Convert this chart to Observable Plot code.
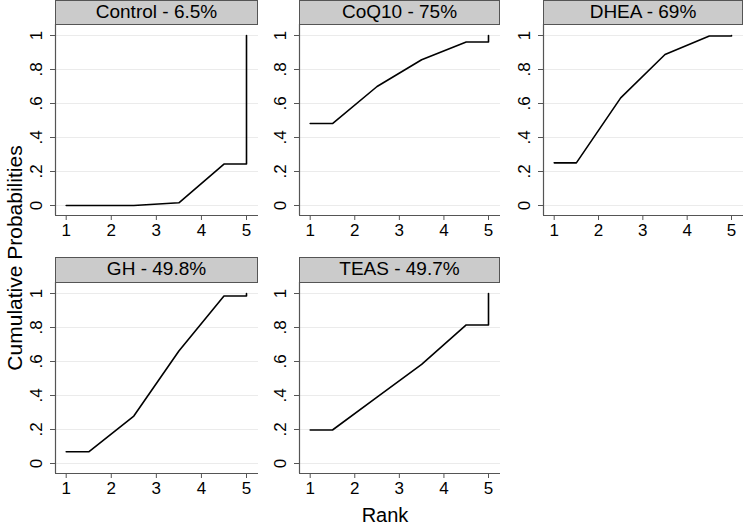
<!DOCTYPE html>
<html>
<head>
<meta charset="utf-8">
<script src="https://cdn.jsdelivr.net/npm/d3@7"></script>
<script src="https://cdn.jsdelivr.net/npm/@observablehq/plot@0.6"></script>
<style>
  html, body { margin: 0; padding: 0; background: white; }
  #chart { position: relative; width: 744px; height: 524px; font-family: "Liberation Sans", Arial, Helvetica, sans-serif; overflow: hidden; }
  .strip { position: absolute; box-sizing: border-box; border: 1px solid #555; background: #cbcbcb; color: #000;
           font-size: 19px; text-align: center; line-height: 22px; }
  .panel { position: absolute; }
  .ytitle { position: absolute; font-size: 21px; white-space: nowrap; transform: translate(-50%, -50%) rotate(-90deg); }
  .xtitle { position: absolute; font-size: 20px; white-space: nowrap; transform: translate(-50%, -50%); }
</style>
</head>
<body>
<div id="chart"></div>
<script>
// ---- data ----
const treatments = ["Control", "CoQ10", "DHEA", "GH", "TEAS"];
const sucraPct = ["6.5%", "75%", "69%", "49.8%", "49.7%"];
const ranks = [1, 2, 3, 4, 5];
// cumulative probability of being within the best k ranks (k = 1..5)
const cumControl = [0.000, 0.000, 0.016, 0.244, 1];
const cumCoQ10   = [0.482, 0.700, 0.857, 0.962, 1];
const cumDHEA    = [0.251, 0.633, 0.888, 0.997, 1];
const cumGH      = [0.069, 0.279, 0.662, 0.985, 1];
const cumTEAS    = [0.197, 0.390, 0.583, 0.815, 1];
const cumList = [cumControl, cumCoQ10, cumDHEA, cumGH, cumTEAS];
const yTicks = [0, 0.2, 0.4, 0.6, 0.8, 1];

// Stata sucra-style path: flat to 1.5, midpoints, flat to 5, jump to 1
function sucraPath(c) {
  return [
    {x: ranks[0], y: c[0]},
    {x: (ranks[0] + ranks[1]) / 2, y: c[0]},
    {x: (ranks[1] + ranks[2]) / 2, y: c[1]},
    {x: (ranks[2] + ranks[3]) / 2, y: c[2]},
    {x: (ranks[3] + ranks[4]) / 2, y: c[3]},
    {x: ranks[4], y: c[3]},
    {x: ranks[4], y: c[4]}
  ];
}

// ---- layout ----
const axisXs = [55, 299, 543];
const plotWs = [203, 201, 200];
const stripTops = [0, 257];
const plotTops = [24, 282];
const plotH = 191;
const mL = 45, mB = 34;
const xPadL = 10.7, xPadR = 12, yPadT = 11, yPadB = 10;

const chart = document.getElementById("chart");
const fmt = d => d === 0 ? "0" : d === 1 ? "1" : String(d).replace(/^0/, "");

treatments.forEach((name, i) => {
  const col = i % 3, row = Math.floor(i / 3);
  const w = plotWs[col];
  const pxPerX = (w - xPadL - xPadR) / 4;
  const xDom = [1 - xPadL / pxPerX, 5 + xPadR / pxPerX];
  const pxPerY = plotH - yPadT - yPadB;
  const yDom = [0 - yPadB / pxPerY, 1 + yPadT / pxPerY];

  const strip = document.createElement("div");
  strip.className = "strip";
  strip.style.left = axisXs[col] + "px";
  strip.style.top = stripTops[row] + "px";
  strip.style.width = w + "px";
  strip.style.height = (plotTops[row] - stripTops[row] + 1) + "px";
  strip.textContent = name + " - " + sucraPct[i];

  const p = Plot.plot({
    width: mL + w,
    height: plotH + mB,
    marginLeft: mL, marginRight: 0, marginTop: 0, marginBottom: mB,
    style: {background: "transparent", fontFamily: "Liberation Sans, Arial, sans-serif", fontSize: "17px", color: "#000"},
    x: {domain: xDom},
    y: {domain: yDom},
    marks: [
      Plot.gridY(yTicks, {stroke: "#ebebeb", strokeOpacity: 1, strokeWidth: 1.2}),
      Plot.ruleX([xDom[0]], {stroke: "#555", strokeWidth: 1.2}),
      Plot.ruleY([yDom[0]], {stroke: "#555", strokeWidth: 1.2}),
      Plot.axisY(yTicks, {tickSize: 5, tickPadding: 14, tickRotate: -90, textAnchor: "middle", lineAnchor: "middle",
        tickFormat: fmt, label: null, stroke: "#555", fill: "#000", fontSize: 17}),
      Plot.axisX(ranks, {tickSize: 5, tickPadding: 3, label: null, stroke: "#555", fill: "#000", fontSize: 17}),
      Plot.line(sucraPath(cumList[i]), {x: "x", y: "y", stroke: "#000", strokeWidth: 1.6})
    ]
  });
  const wrap = document.createElement("div");
  wrap.className = "panel";
  wrap.style.left = (axisXs[col] - mL) + "px";
  wrap.style.top = plotTops[row] + "px";
  wrap.appendChild(p);
  chart.appendChild(wrap);
  chart.appendChild(strip);
});

const yt = document.createElement("div");
yt.className = "ytitle";
yt.style.left = "15px";
yt.style.top = "258px";
yt.textContent = "Cumulative Probabilities";
chart.appendChild(yt);

const xt = document.createElement("div");
xt.className = "xtitle";
xt.style.left = "385px";
xt.style.top = "515px";
xt.textContent = "Rank";
chart.appendChild(xt);
</script>
</body>
</html>
